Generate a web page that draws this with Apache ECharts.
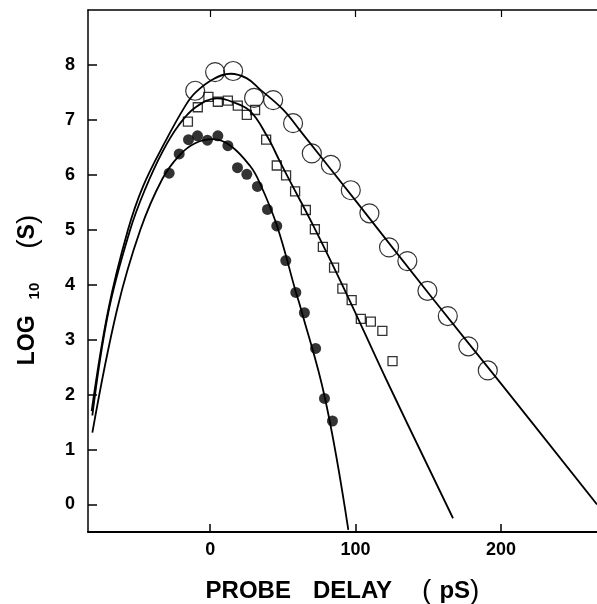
<!DOCTYPE html>
<html>
<head>
<meta charset="utf-8">
<script src="https://cdn.jsdelivr.net/npm/echarts@6/dist/echarts.min.js"></script>
<style>
  html, body { margin: 0; padding: 0; background: #fff; }
  #chart { width: 597px; height: 604px; }
</style>
</head>
<body>
<div id="chart"></div>
<script>
// tick labels
const xTicks = [0, 100, 200];
const yTicks = [0, 1, 2, 3, 4, 5, 6, 7, 8];

// open circles
const openCircleDelay = [-10.3, 3.4, 15.8, 30.2, 43.3, 57.0, 69.9, 83.0, 96.7, 109.5, 123.0, 135.6, 149.4, 163.4, 177.5, 190.9];
const openCircleLog = [7.53, 7.87, 7.89, 7.40, 7.36, 6.94, 6.39, 6.18, 5.72, 5.30, 4.68, 4.43, 3.89, 3.43, 2.88, 2.44];

// open squares
const squareDelay = [-15.3, -8.5, -1.2, 5.3, 12.2, 19.0, 25.2, 30.9, 38.5, 45.8, 52.2, 58.4, 65.8, 72.0, 77.5, 85.2, 90.9, 97.3, 103.6, 110.5, 118.4, 125.4];
const squareLog = [6.97, 7.23, 7.42, 7.33, 7.35, 7.26, 7.09, 7.18, 6.64, 6.17, 5.99, 5.70, 5.36, 5.01, 4.69, 4.31, 3.93, 3.72, 3.38, 3.33, 3.16, 2.61];

// filled circles
const filledDelay = [-28.2, -21.3, -14.9, -8.7, -1.9, 5.3, 12.2, 18.8, 25.2, 32.5, 39.4, 45.8, 52.0, 58.9, 64.8, 72.5, 78.6, 84.1];
const filledLog = [6.03, 6.38, 6.64, 6.71, 6.63, 6.71, 6.53, 6.13, 6.01, 5.79, 5.37, 5.07, 4.44, 3.86, 3.49, 2.84, 1.93, 1.52];

// fitted curves
const fitOpenDelay = [-81.5, -70, -56.5, -46, -31, -17, -10, 2, 14, 25, 34, 50, 62, 100, 153, 200, 266];
const fitOpenLog = [1.7, 3.55, 5.0, 5.8, 6.6, 7.26, 7.5, 7.74, 7.84, 7.76, 7.56, 7.19, 6.8, 5.53, 3.75, 2.2, 0.0];
const fitSquareDelay = [-81, -70, -55, -44.7, -33, -22, -10, 5, 15, 27.5, 39, 48, 53, 71, 94, 121, 167];
const fitSquareLog = [1.62, 3.5, 5.0, 5.74, 6.41, 6.89, 7.23, 7.39, 7.33, 7.16, 6.71, 6.24, 5.98, 5.07, 3.82, 2.28, -0.25];
const fitFilledDelay = [-81, -64, -48, -33, -21, -10, 2, 14, 27.5, 34, 46, 59, 62, 79, 95];
const fitFilledLog = [1.31, 3.55, 5.0, 5.92, 6.36, 6.58, 6.65, 6.53, 6.16, 5.86, 5.07, 3.86, 3.6, 1.93, -0.46];

const zip = (xs, ys) => xs.map((x, i) => [x, ys[i]]);

const font = 'Liberation Sans';
let myChart = echarts.init(document.getElementById('chart'));

function fitLine(xs, ys) {
  return {
    type: 'line',
    data: zip(xs, ys),
    smooth: 0.4,
    showSymbol: false,
    silent: true,
    lineStyle: { color: '#000', width: 1.8 },
    z: 2
  };
}

var option = {
  animation: false,
  grid: { left: 88, right: 0, top: 10, bottom: 72, outerBoundsMode: 'none' },
  xAxis: [
    {
      type: 'value',
      position: 'bottom',
      min: -84,
      max: 266,
      name: '{a|PROBE}{d|DELAY}{p1|(}{s|pS}{p|)}',
      nameLocation: 'middle',
      nameGap: 45,
      nameTextStyle: {
        rich: {
          a: { fontFamily: font, fontWeight: 'bold', fontSize: 24, lineHeight: 28, color: '#000' },
          d: { fontFamily: font, fontWeight: 'bold', fontSize: 24, lineHeight: 28, padding: [0, 0, 0, 22], color: '#000' },
          p1: { fontFamily: font, fontWeight: 'normal', fontSize: 28, lineHeight: 28, padding: [0, 0, 0, 30], color: '#000' },
          s: { fontFamily: font, fontWeight: 'bold', fontSize: 24, lineHeight: 28, padding: [0, 0, 0, 8], color: '#000' },
          p: { fontFamily: font, fontWeight: 'normal', fontSize: 28, lineHeight: 28, color: '#000' }
        }
      },
      axisLine: { show: true, onZero: false, lineStyle: { color: '#000', width: 2 } },
      axisTick: { show: true, inside: true, length: 8, customValues: xTicks, lineStyle: { color: '#000', width: 1.5 } },
      axisLabel: {
        customValues: xTicks,
        margin: 9,
        color: '#000',
        fontFamily: font,
        fontWeight: 'bold',
        fontSize: 18
      },
      splitLine: { show: false }
    },
    {
      type: 'value',
      position: 'top',
      min: -84,
      max: 266,
      axisLine: { show: true, onZero: false, lineStyle: { color: '#000', width: 1.5 } },
      axisTick: { show: true, inside: true, length: 7, customValues: xTicks, lineStyle: { color: '#000', width: 1.2 } },
      axisLabel: { show: false },
      splitLine: { show: false }
    }
  ],
  yAxis: {
    type: 'value',
    min: -0.5,
    max: 9,
    name: '{a|LOG}{b|10}{p|(}{a|S}{p|)}',
    nameLocation: 'middle',
    nameRotate: 90,
    nameGap: 46,
    nameTextStyle: {
      padding: [0, 38, 0, 0],
      rich: {
        a: { fontFamily: font, fontWeight: 'bold', fontSize: 23, lineHeight: 28, color: '#000' },
        b: { fontFamily: font, fontWeight: 'bold', fontSize: 15, lineHeight: 15, verticalAlign: 'bottom', padding: [0, 34, 0, 16], color: '#000' },
        p: { fontFamily: font, fontWeight: 'normal', fontSize: 28, lineHeight: 28, color: '#000' }
      }
    },
    axisLine: { show: true, onZero: false, lineStyle: { color: '#000', width: 1.5 } },
    axisTick: { show: true, inside: true, length: 9, customValues: yTicks, lineStyle: { color: '#000', width: 1.5 } },
    axisLabel: {
      customValues: yTicks,
      margin: 13,
      color: '#000',
      fontFamily: font,
      fontWeight: 'bold',
      fontSize: 18
    },
    splitLine: { show: false }
  },
  series: [
    fitLine(fitOpenDelay, fitOpenLog),
    fitLine(fitSquareDelay, fitSquareLog),
    fitLine(fitFilledDelay, fitFilledLog),
    {
      type: 'scatter',
      data: zip(openCircleDelay, openCircleLog),
      symbol: 'circle',
      symbolSize: 19,
      itemStyle: { color: 'rgba(0,0,0,0)', borderColor: '#000', borderWidth: 1.2 },
      z: 3
    },
    {
      type: 'scatter',
      data: zip(squareDelay, squareLog),
      symbol: 'rect',
      symbolSize: 9,
      itemStyle: { color: 'rgba(0,0,0,0)', borderColor: '#000', borderWidth: 1.3 },
      z: 3
    },
    {
      type: 'scatter',
      data: zip(filledDelay, filledLog),
      symbol: 'circle',
      symbolSize: 11,
      itemStyle: { color: '#000' },
      z: 3
    }
  ]
};
myChart.setOption(option);
</script>
</body>
</html>
